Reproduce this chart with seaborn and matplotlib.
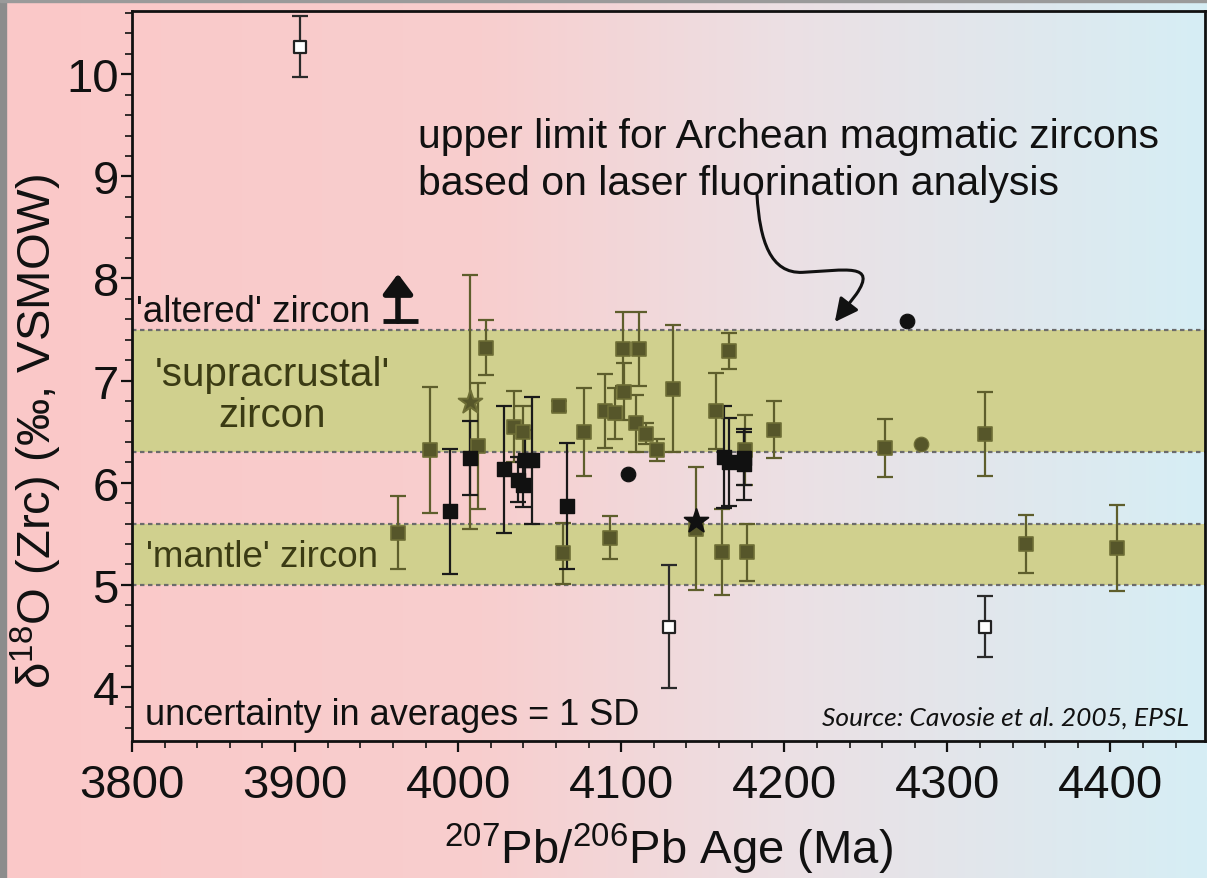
import numpy as np
import pandas as pd
import matplotlib
matplotlib.use("Agg")
import matplotlib.pyplot as plt
import seaborn as sns
from matplotlib.path import Path
from matplotlib.patches import FancyArrowPatch, Rectangle
from matplotlib.ticker import MultipleLocator

# ---------------- data ----------------
olive_sq_age = [3963, 3983, 4012, 4017, 4034, 4040, 4062, 4064, 4077, 4090, 4093, 4096,
                4101, 4102, 4109, 4111, 4115, 4122, 4132, 4146, 4158, 4162, 4166, 4176,
                4177, 4194, 4262, 4323, 4348, 4404]
olive_sq_d18o = [5.51, 6.32, 6.36, 7.32, 6.55, 6.50, 6.75, 5.31, 6.50, 6.70, 5.46, 6.68,
                 7.31, 6.89, 6.58, 7.31, 6.48, 6.32, 6.92, 5.55, 6.70, 5.32, 7.29, 6.32,
                 5.32, 6.52, 6.34, 6.48, 5.40, 5.36]
olive_sq_err = [0.36, 0.62, 0.62, 0.27, 0.35, 0.25, 0.05, 0.30, 0.43, 0.36, 0.21, 0.25,
                0.36, 0.28, 0.28, 0.36, 0.10, 0.11, 0.62, 0.60, 0.37, 0.42, 0.18, 0.34,
                0.28, 0.28, 0.28, 0.41, 0.28, 0.42]

black_sq_age = [3995, 4007, 4028, 4037, 4040, 4041, 4045, 4067, 4163, 4166, 4175, 4175]
black_sq_d18o = [5.72, 6.24, 6.13, 6.03, 5.98, 6.22, 6.22, 5.77, 6.25, 6.20, 6.24, 6.18]
black_sq_err = [0.61, 0.36, 0.62, 0.22, 0.22, 0.30, 0.62, 0.62, 0.50, 0.43, 0.26, 0.35]

open_sq_age = [3903, 4129, 4323]
open_sq_d18o = [10.27, 4.59, 4.59]
open_sq_err = [0.30, 0.60, 0.30]

black_circ_age = [4104, 4275]
black_circ_d18o = [6.09, 7.58]

olive_circ_age = [4284]
olive_circ_d18o = [6.38]

olive_star_age = [4007]
olive_star_d18o = [6.79]
olive_star_err = [1.24]

black_star_age = [4146]
black_star_d18o = [5.62]

supracrustal_band = [6.3, 7.5]
mantle_band = [5.0, 5.6]

x_ticks = [3800, 3900, 4000, 4100, 4200, 4300, 4400]
y_ticks = [4, 5, 6, 7, 8, 9, 10]

# ---------------- style ----------------
sns.set_theme(style="ticks")
plt.rcParams['font.family'] = ['Liberation Sans', 'DejaVu Sans']
plt.rcParams['mathtext.fontset'] = 'custom'
plt.rcParams['mathtext.rm'] = 'Liberation Sans'
plt.rcParams['mathtext.it'] = 'Liberation Sans:italic'

W, H = 1207, 879
fig = plt.figure(figsize=(W / 100, H / 100), dpi=100)

# background gradient (pink -> light blue)
bg = fig.add_axes([0, 0, 1, 1], zorder=-10)
stops = [0.0, 0.40, 0.65, 1.0]
cols = np.array([[251, 200, 200], [248, 206, 206], [236, 224, 228], [214, 238, 245]]) / 255.0
xs = np.linspace(0, 1, 600)
grad = np.stack([np.interp(xs, stops, cols[:, k]) for k in range(3)], axis=-1)
bg.imshow(grad[np.newaxis, :, :], aspect='auto', extent=[0, 1, 0, 1])
bg.set_xlim(0, 1)
bg.set_ylim(0, 1)
bg.axis('off')
bg.add_patch(Rectangle((0, 0), 6 / W, 1, color='#8c8c8c', transform=bg.transAxes))
bg.add_patch(Rectangle((0, 1 - 3 / H), 1, 3 / H, color='#9a9a9a', transform=bg.transAxes))

ax = fig.add_axes([132 / W, 1 - 742 / H, (1205 - 132) / W, (742 - 12) / H])
ax.set_facecolor('none')
ax.set_xlim(3800, 4458)
ax.set_ylim(3.47, 10.62)

band_col = '#d0d08e'
dot_col = '#6b6b6b'
ax.axhspan(supracrustal_band[0], supracrustal_band[1], color=band_col, zorder=0, lw=0)
ax.axhspan(mantle_band[0], mantle_band[1], color=band_col, zorder=0, lw=0)
for v in supracrustal_band + mantle_band:
    ax.axhline(v, color=dot_col, lw=1.6, ls=(0, (2, 1.6)), zorder=1)

olive_fill = '#56562a'
olive_edge = '#6e6e36'
olive_err = '#5e5e2c'
ms = 115

ax.errorbar(olive_sq_age, olive_sq_d18o, yerr=olive_sq_err, fmt='none', ecolor=olive_err,
            elinewidth=1.6, capsize=6, capthick=1.6, zorder=2)
ax.errorbar(olive_star_age, olive_star_d18o, yerr=olive_star_err, fmt='none', ecolor=olive_err,
            elinewidth=1.6, capsize=6, capthick=1.6, zorder=2)
ax.errorbar(black_sq_age, black_sq_d18o, yerr=black_sq_err, fmt='none', ecolor='#1a1a1a',
            elinewidth=1.6, capsize=6, capthick=1.6, zorder=3)
ax.errorbar(open_sq_age, open_sq_d18o, yerr=open_sq_err, fmt='none', ecolor='#2a2a2a',
            elinewidth=1.6, capsize=6, capthick=1.6, zorder=3)

df_os = pd.DataFrame({'age': olive_sq_age, 'd18o': olive_sq_d18o})
sns.scatterplot(data=df_os, x='age', y='d18o', marker='s', s=ms, color=olive_fill,
                edgecolor=olive_edge, linewidth=1.2, ax=ax, zorder=4)
df_bs = pd.DataFrame({'age': black_sq_age, 'd18o': black_sq_d18o})
sns.scatterplot(data=df_bs, x='age', y='d18o', marker='s', s=ms, color='#111111',
                edgecolor='#111111', linewidth=1.0, ax=ax, zorder=5)
df_op = pd.DataFrame({'age': open_sq_age, 'd18o': open_sq_d18o})
sns.scatterplot(data=df_op, x='age', y='d18o', marker='s', s=70, color='white',
                edgecolor='#222222', linewidth=1.6, ax=ax, zorder=5)
df_bc = pd.DataFrame({'age': black_circ_age, 'd18o': black_circ_d18o})
sns.scatterplot(data=df_bc, x='age', y='d18o', marker='o', s=110, color='#111111',
                edgecolor='#111111', ax=ax, zorder=5)
df_oc = pd.DataFrame({'age': olive_circ_age, 'd18o': olive_circ_d18o})
sns.scatterplot(data=df_oc, x='age', y='d18o', marker='o', s=110, color=olive_fill,
                edgecolor=olive_edge, ax=ax, zorder=5)
df_ost = pd.DataFrame({'age': olive_star_age, 'd18o': olive_star_d18o})
sns.scatterplot(data=df_ost, x='age', y='d18o', marker='*', s=320, color=olive_fill,
                edgecolor=olive_edge, ax=ax, zorder=5)
df_bst = pd.DataFrame({'age': black_star_age, 'd18o': black_star_d18o})
sns.scatterplot(data=df_bst, x='age', y='d18o', marker='*', s=320, color='#111111',
                edgecolor='#111111', ax=ax, zorder=5)

ax.set_xticks(x_ticks)
ax.set_yticks(y_ticks)
ax.xaxis.set_minor_locator(MultipleLocator(20))
ax.yaxis.set_minor_locator(MultipleLocator(0.2))
ax.tick_params(axis='both', which='major', direction='out', length=8, width=1.6,
               labelsize=34, colors='#111111')
ax.tick_params(axis='x', which='major', pad=8)
ax.tick_params(axis='y', which='major', pad=1.5)
ax.tick_params(axis='both', which='minor', direction='out', length=5, width=1.2, colors='#111111')
for sp in ax.spines.values():
    sp.set_color('#111111')
    sp.set_linewidth(2.0)
    sp.set_visible(True)

ax.set_xlabel(r'$^{207}$Pb/$^{206}$Pb Age (Ma)', fontsize=34, color='#111111', labelpad=10)
ax.set_ylabel('δ$^{18}$O (Zrc) (‰, VSMOW)', fontsize=34, color='#111111')
ax.yaxis.set_label_coords(-0.063, 0.425)

txt_dark_olive = '#3b3b14'
ax.text(0.004, 0.589, "'altered' zircon", transform=ax.transAxes, fontsize=26.5,
        ha='left', va='center', color='#111111')
ax.annotate('', xy=(0.2479, 0.640), xytext=(0.2479, 0.575), xycoords='axes fraction',
            textcoords='axes fraction',
            arrowprops=dict(arrowstyle='-|>,head_length=1.0,head_width=0.75', lw=4,
                            color='#111111', shrinkA=0, shrinkB=0))
ax.plot([0.2339, 0.2665], [0.5753, 0.5753], transform=ax.transAxes, color='#111111', lw=3.5,
        solid_capstyle='butt', zorder=6)
ax.text(0.131, 0.475, "'supracrustal'\nzircon", transform=ax.transAxes, fontsize=29,
        ha='center', va='center', color=txt_dark_olive, linespacing=1.1)
ax.text(0.013, 0.253, "'mantle' zircon", transform=ax.transAxes, fontsize=26.5,
        ha='left', va='center', color=txt_dark_olive)
ax.text(0.012, 0.036, "uncertainty in averages = 1 SD", transform=ax.transAxes, fontsize=26,
        ha='left', va='center', color='#111111')
ax.text(0.985, 0.033, "Source: Cavosie et al. 2005, EPSL", transform=ax.transAxes, fontsize=19,
        ha='right', va='center', color='#111111', style='italic', family=['Lato', 'DejaVu Sans'])
ax.text(0.2666, 0.797, "upper limit for Archean magmatic zircons\nbased on laser fluorination analysis",
        transform=ax.transAxes, fontsize=29.5, ha='left', va='center', color='#111111',
        linespacing=1.3)

verts = [(0.5825, 0.748), (0.585, 0.685), (0.595, 0.640), (0.625, 0.642),
         (0.665, 0.645), (0.695, 0.655), (0.675, 0.612), (0.655, 0.574)]
codes = [Path.MOVETO, Path.CURVE4, Path.CURVE4, Path.CURVE4,
         Path.CURVE4, Path.CURVE4, Path.CURVE4, Path.LINETO]
arr = FancyArrowPatch(path=Path(verts, codes), arrowstyle='-|>,head_length=14,head_width=7',
                      lw=2.2, color='#111111', transform=ax.transAxes, zorder=6)
ax.add_patch(arr)

fig.savefig('out.png', dpi=100)
